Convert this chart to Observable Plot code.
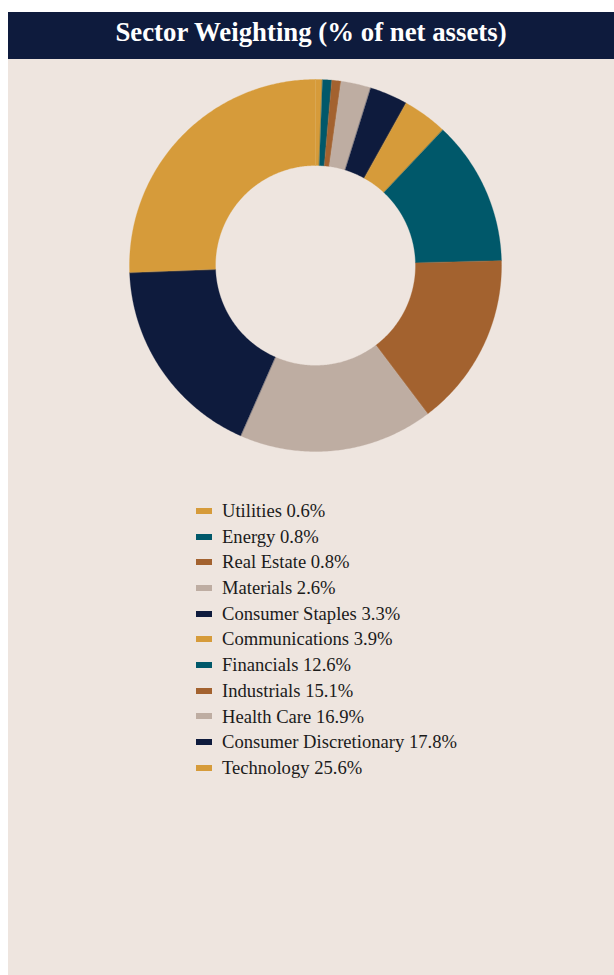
<!DOCTYPE html>
<html>
<head>
<meta charset="utf-8">
<script src="https://cdn.jsdelivr.net/npm/d3@7"></script>
<script src="https://cdn.jsdelivr.net/npm/@observablehq/plot@0.6"></script>
<style>
  html, body { margin: 0; padding: 0; background: #ffffff; }
  #wrap { position: absolute; left: 8px; top: 12px; width: 606px; height: 963px; background: #EEE5DF; }
  #title { height: 47px; background: #0E1B3D; color: #ffffff; font-family: "Liberation Serif", "Times New Roman", serif; font-weight: bold; font-size: 26.8px; text-align: center; line-height: 40px; }
  #chart svg { display: block; }
  #legend { padding-top: 27px; margin-left: 188px; font-family: "Liberation Serif", "Times New Roman", serif; font-size: 18.6px; color: #1b1b1b; }
  .row { height: 25.7px; line-height: 25.7px; display: flex; align-items: center; white-space: nowrap; }
  .sw { width: 16px; height: 6px; margin-right: 10px; flex: none; }
</style>
</head>
<body>
<div id="wrap">
  <div id="title">Sector Weighting (% of net assets)</div>
  <div id="chart"></div>
  <div id="legend"></div>
</div>
<script>
const sectors = ["Utilities", "Energy", "Real Estate", "Materials", "Consumer Staples", "Communications", "Financials", "Industrials", "Health Care", "Consumer Discretionary", "Technology"];
const weights = [0.6, 0.8, 0.8, 2.6, 3.3, 3.9, 12.6, 15.1, 16.9, 17.8, 25.6];
const colors = ["#D69B3A", "#00586A", "#A3622F", "#BEADA2", "#0E1B3D", "#D69B3A", "#00586A", "#A3622F", "#BEADA2", "#0E1B3D", "#D69B3A"];

const innerRatio = 100 / 186;
const data = sectors.map((s, i) => ({sector: s, value: weights[i], color: colors[i]}));
const arcs = d3.pie().sort(null).value(d => d.value)(data);

function pt(a, r) { return [Math.sin(a) * r, -Math.cos(a) * r]; }
const features = arcs.map(a => {
  const n = Math.max(2, Math.ceil((a.endAngle - a.startAngle) / 0.01));
  const ring = [];
  for (let k = 0; k <= n; k++) ring.push(pt(a.startAngle + (a.endAngle - a.startAngle) * k / n, 1));
  for (let k = n; k >= 0; k--) ring.push(pt(a.startAngle + (a.endAngle - a.startAngle) * k / n, innerRatio));
  ring.push(ring[0]);
  return {type: "Feature", properties: {sector: a.data.sector, color: a.data.color}, geometry: {type: "Polygon", coordinates: [ring]}};
});

const frame = {type: "Polygon", coordinates: [[[-1, -1], [1, -1], [1, 1], [-1, 1], [-1, -1]]]};

const plot = Plot.plot({
  width: 606,
  height: 412,
  marginLeft: 121,
  marginRight: 113,
  marginTop: 20,
  marginBottom: 20,
  style: {background: "transparent"},
  projection: {type: "identity", domain: frame},
  color: {type: "identity"},
  marks: [
    Plot.geo(features, {fill: d => d.properties.color, stroke: d => d.properties.color, strokeWidth: 0.3})
  ]
});
document.getElementById("chart").appendChild(plot);

const legend = document.getElementById("legend");
data.forEach(d => {
  const row = document.createElement("div");
  row.className = "row";
  const sw = document.createElement("span");
  sw.className = "sw";
  sw.style.background = d.color;
  const t = document.createElement("span");
  t.textContent = `${d.sector} ${d.value.toFixed(1)}%`;
  row.appendChild(sw);
  row.appendChild(t);
  legend.appendChild(row);
});
</script>
</body>
</html>
